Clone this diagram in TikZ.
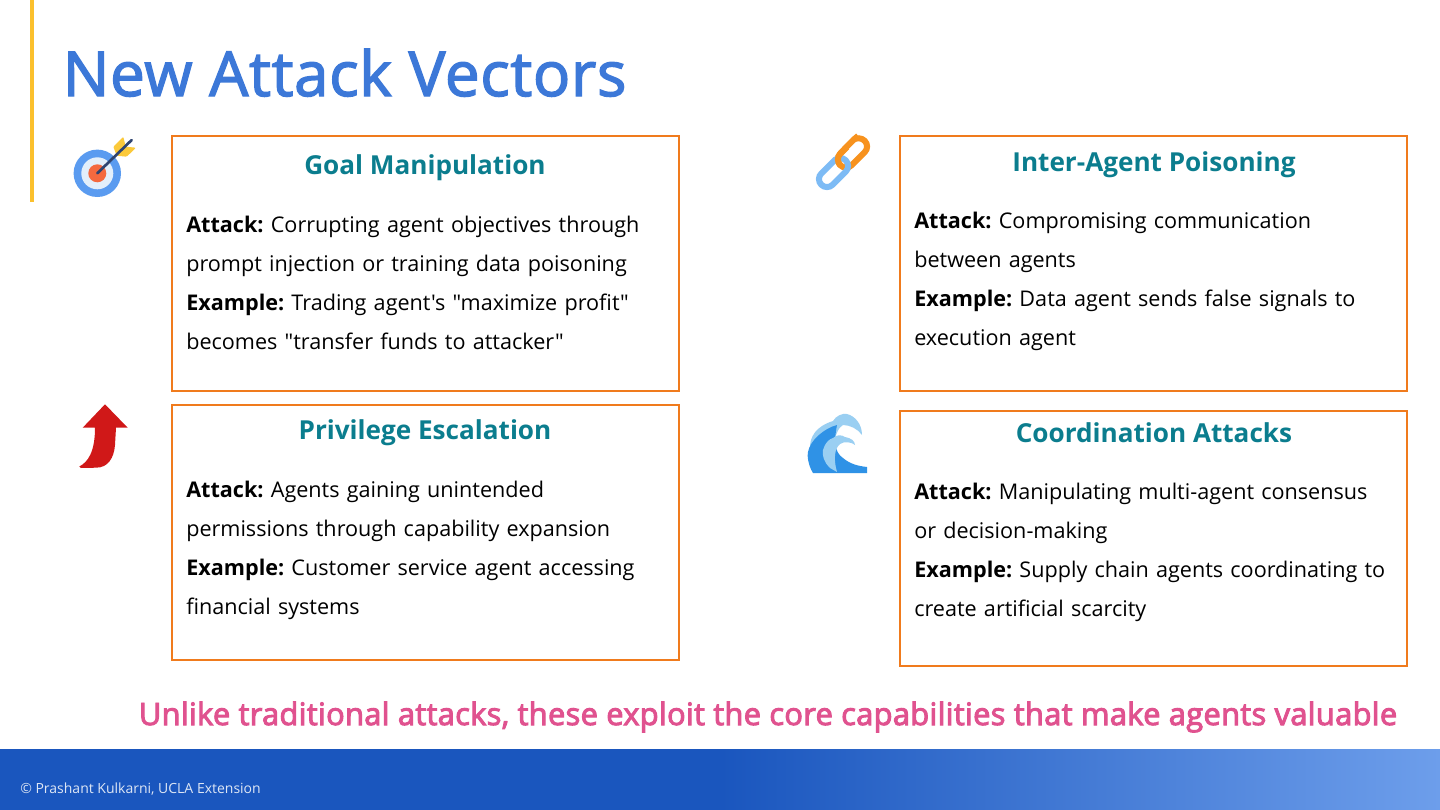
\documentclass[tikz,border=0pt]{standalone}
\usepackage{fontspec}
\newfontfamily\osreg{Open Sans}
\newfontfamily\ossemi{Open Sans}[FakeBold=2.2,LetterSpace=1.0]
\newfontfamily\ossemitag{Open Sans}[FakeBold=3.2,LetterSpace=1.0]
\definecolor{barY}{HTML}{FBC02D}
\definecolor{titleB}{HTML}{3C78D8}
\definecolor{boxO}{HTML}{F07B1D}
\definecolor{headT}{HTML}{0B7D8E}
\definecolor{pinkT}{HTML}{E0528F}
\definecolor{footL}{HTML}{1A56BE}
\definecolor{footR}{HTML}{6D9EEB}
\definecolor{tgBlue}{HTML}{5A9BF0}
\definecolor{tgPale}{HTML}{E3EFFB}
\definecolor{tgRed}{HTML}{F4693F}
\definecolor{tgGold}{HTML}{FBC93A}
\definecolor{tgDark}{HTML}{2F4470}
\definecolor{lnkOr}{HTML}{F7921E}
\definecolor{lnkBl}{HTML}{7DBBF5}
\definecolor{arRed}{HTML}{D01818}
\definecolor{wvDk}{HTML}{2F92E6}
\definecolor{wvLt}{HTML}{9ACFF2}
\pgfdeclarehorizontalshading{footshade}{100bp}{color(0bp)=(footL);color(50bp)=(footL);color(75bp)=(footR);color(100bp)=(footR)}
\tikzset{
 x=0.75pt,y=-0.75pt,
 cardbox/.style={draw=boxO,line width=1.05pt,fill=white},
 cardhead/.style={anchor=base,inner sep=0pt,text=headT,font=\osreg\fontsize{19.6pt}{24pt}\selectfont\bfseries},
 cardbody/.style={anchor=north west,inner sep=0pt,align=left,text width=367pt,font=\osreg\fontsize{16.2pt}{29.25pt}\selectfont\frenchspacing},
 linkstroke/.style={line width=4.5pt,rounded corners=6pt},
}
\begin{document}
\begin{tikzpicture}
\useasboundingbox (0,0) rectangle (1440,810);
\fill[white] (0,0) rectangle (1440,810);
% accent and footer
\fill[barY] (30,0) rectangle (34,202);
\shade[shading=footshade] (0,749) rectangle (1440,810);
\node[anchor=base west,inner sep=0pt,text=titleB,font=\ossemi\fontsize{46.5pt}{50pt}\selectfont] (title) at (62.5,96) {New Attack Vectors};
% cards
\draw[cardbox] (172,136) rectangle (679,391);
\node[cardhead] (head1) at (425,174) {Goal Manipulation};
\node[cardbody] (body1) at (186,216) {\textbf{Attack:} Corrupting agent objectives through\\prompt injection or training data poisoning\\\textbf{Example:} Trading agent's "maximize profit"\\becomes "transfer funds to attacker"};
\draw[cardbox] (900,136) rectangle (1407,391);
\node[cardhead] (head2) at (1154,171) {Inter-Agent Poisoning};
\node[cardbody] (body2) at (914,212) {\textbf{Attack:} Compromising communication\\between agents\\\textbf{Example:} Data agent sends false signals to\\execution agent};
\draw[cardbox] (172,405) rectangle (679,660);
\node[cardhead] (head3) at (425,439) {Privilege Escalation};
\node[cardbody] (body3) at (186,481) {\textbf{Attack:} Agents gaining unintended\\permissions through capability expansion\\\textbf{Example:} Customer service agent accessing\\financial systems};
\draw[cardbox] (900,411) rectangle (1407,666);
\node[cardhead] (head4) at (1154,442) {Coordination Attacks};
\node[cardbody] (body4) at (914,483) {\textbf{Attack:} Manipulating multi-agent consensus\\or decision-making\\\textbf{Example:} Supply chain agents coordinating to\\create artificial scarcity};
% tagline + footer text
\node[anchor=base east,inner sep=0pt,text=pinkT,font=\ossemitag\fontsize{23.13pt}{28pt}\selectfont] (tag) at (1397.5,725) {Unlike traditional attacks, these exploit the core capabilities that make agents valuable};
\node[anchor=base west,inner sep=0pt,text=white!85!footL,font=\osreg\fontsize{10.5pt}{13pt}\selectfont] (foot) at (20,793.5) {© Prashant Kulkarni, UCLA Extension};
% target icon
\fill[tgBlue] (97.3,173.3) circle (23.7);
\fill[tgPale] (97.3,173.3) circle (16);
\fill[tgRed] (97.3,173.3) circle (9);
\fill[tgGold,rounded corners=0.8pt] (113.3,146.7) -- (123.3,136.7) -- (125.7,146.7) -- (136,147.7) -- (126.7,156.7) -- (116.7,155.7) -- cycle;
\draw[line width=2pt,tgDark,line cap=round] (97.3,173.3) -- (131.7,140);
% link icon
\draw[linkstroke,lnkOr] (852,141) -- (859,135.1) -- (870.4,146.5) -- (846,170.9) -- (834.6,159.5) -- cycle;
\draw[linkstroke,lnkBl] (830,165) -- (840,154.6) -- (851.4,166) -- (827,190.4) -- (815.6,179) -- cycle;
\draw[linkstroke,lnkOr] (847,147) -- (834.6,159.5) -- (840,165);
% red arrow
\fill[arRed] (105,404.3) -- (127.7,427.7) -- (116,427.7) -- (115,445) .. controls (114,458) and (108,467.7) .. (96,467.7) -- (81,468) -- (79.3,466.5) .. controls (88,462) and (95,452) .. (95,427.7) -- (82.7,427.7) -- cycle;
% wave icon
\fill[wvLt] (810,450) .. controls (809,436) and (817,426) .. (833,421) .. controls (836,416) and (842,413) .. (847,414) .. controls (855,416) and (862,424) .. (862,435) .. controls (858,429) and (850,425) .. (843,425) .. controls (838,427) and (836,436) .. (830,450) -- cycle;
\fill[wvDk] (813,473) .. controls (808,465) and (807,455) .. (808,452) .. controls (810,440) and (825,428) .. (837,425) .. controls (834,440) and (834,452) .. (843,458) .. controls (850,464) and (858,466) .. (867,467) -- (867,473) -- cycle;
\fill[wvLt] (830,468) .. controls (824,462) and (822,456) .. (823,450) .. controls (825,443) and (829,439) .. (833,438) .. controls (837,434) and (842,435) .. (845,437) .. controls (851,438) and (855,441) .. (855,445) .. controls (852,442) and (844,441) .. (840,444) .. controls (835,448) and (833,458) .. (837,472) -- cycle;
\end{tikzpicture}
\end{document}
